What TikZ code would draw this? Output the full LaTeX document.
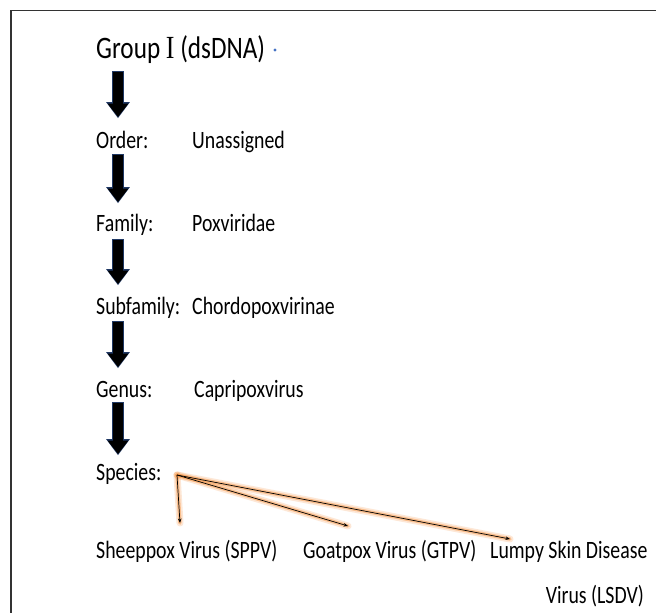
\documentclass[tikz,border=0pt]{standalone}
\usepackage{fontspec}
\setmainfont{Carlito}
\newfontfamily\romanI{Liberation Serif}
\usetikzlibrary{arrows.meta,calc}
\definecolor{arrowedge}{RGB}{31,56,100}
\definecolor{glow}{RGB}{247,150,70}
\definecolor{dotblue}{RGB}{68,114,196}
\begin{document}
\begin{tikzpicture}[x=1pt,y=-1pt,
  txt/.style={anchor=base west, inner sep=0pt, font=\fontsize{19.8}{24}\selectfont, yscale=1.26, transform shape},
  bigtxt/.style={anchor=base west, inner sep=0pt, font=\fontsize{25.2}{30}\selectfont, yscale=1.24, transform shape},
  blkedge/.style={draw=arrowedge, line width=11.6pt, -{Triangle[width=22.5pt,length=16pt]}},
  blk/.style={draw=black, line width=9.6pt, -{Triangle[width=20pt,length=13.5pt]}},
  glowwide/.style={draw=glow, opacity=0.22, line width=7pt, line cap=round},
  glowline/.style={draw=glow, opacity=0.5, line width=3.5pt, line cap=round},
  thin/.style={draw=black, line width=0.7pt, -{Stealth[length=4.5pt,width=3.5pt]}}
]
\useasboundingbox (0,0) rectangle (656,613);
\fill[white] (0,0) rectangle (656,613);
% frame (top and left only)
\draw[line width=1.4pt, black!80] (11,613) -- (11,10.5) -- (656,10.5);

% header
\node[bigtxt] (group) at (96,58) {Group {\romanI\fontsize{26}{30}\selectfont I} (dsDNA)};
\fill[dotblue] (275,50) circle (1.7);

% ranks
\node[txt] (order) at (96,148) {Order:};
\node[txt] (orderv) at (192,148) {Unassigned};
\node[txt] (family) at (96,231) {Family:};
\node[txt] (familyv) at (192,231) {Poxviridae};
\node[txt] (subfam) at (96,314) {Subfamily:};
\node[txt] (subfamv) at (192,314) {Chordopoxvirinae};
\node[txt] (genus) at (96,397) {Genus:};
\node[txt] (genusv) at (194,397) {Capripoxvirus};
\node[txt] (species) at (96,480) {Species:};

% species
\node[txt] (sppv) at (96,558) {Sheeppox Virus (SPPV)};
\node[txt] (gtpv) at (303,558) {Goatpox Virus (GTPV)};
\node[txt] (lsdv) at (490,558) {Lumpy Skin Disease};
\node[txt, anchor=base east] (lsdv2) at (644,603) {Virus (LSDV)};

% block arrow coordinates
\coordinate (a1s) at (118,72);  \coordinate (a1e) at (118,117);
\coordinate (a2s) at (118,155); \coordinate (a2e) at (118,202);
\coordinate (a3s) at (118,240); \coordinate (a3e) at (118,284);
\coordinate (a4s) at (118,322); \coordinate (a4e) at (118,367);
\coordinate (a5s) at (118,403); \coordinate (a5e) at (118,454);
\foreach \i in {1,...,5}{
  \draw[blkedge] ($(a\i s)+(0,-0.8)$) -- ($(a\i e)+(0,1.2)$);
  \draw[blk] (a\i s) -- (a\i e);
}

% branching arrows
\coordinate (br) at (177,475);
\coordinate (t1) at (180,523);
\coordinate (t2) at (348,526);
\coordinate (t3) at (510,539);
\foreach \t in {t1,t2,t3}{
  \draw[glowwide] (br) -- (\t);
}
\foreach \t in {t1,t2,t3}{
  \draw[glowline] (br) -- (\t);
}
\foreach \t in {t1,t2,t3}{
  \draw[thin] (br) -- (\t);
}
\end{tikzpicture}
\end{document}
